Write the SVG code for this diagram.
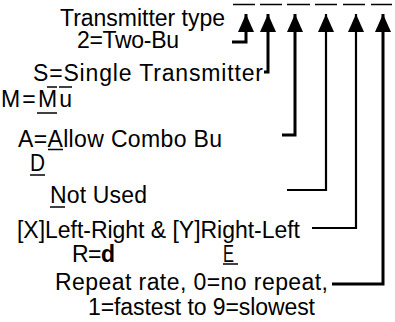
<svg xmlns="http://www.w3.org/2000/svg" width="395" height="322" viewBox="0 0 395 322">
<style>
text{font-family:"Liberation Sans",Arial,sans-serif;font-size:23px;fill:#000}
.u{stroke:#000;stroke-width:1.5}
.c{fill:none;stroke:#000;stroke-width:3}
.c2{fill:none;stroke:#000;stroke-width:2.2}
</style>
<defs>
<marker id="ah" markerUnits="userSpaceOnUse" markerWidth="18" markerHeight="16" refX="18" refY="8" orient="auto" viewBox="0 0 18 16">
<path d="M0,0 L18,8 L0,16 z" fill="#000"/>
</marker>
</defs>
<rect width="395" height="322" fill="#fff"/>
<g id="slots">
<line class="u" x1="233" y1="4.5" x2="255" y2="4.5"/>
<line class="u" x1="260" y1="4.5" x2="282" y2="4.5"/>
<line class="u" x1="287" y1="4.5" x2="310" y2="4.5"/>
<line class="u" x1="315" y1="4.5" x2="337" y2="4.5"/>
<line class="u" x1="343" y1="4.5" x2="365" y2="4.5"/>
<line class="u" x1="371" y1="4.5" x2="392" y2="4.5"/>
</g>
<g id="n1"><text x="60" y="26" textLength="165" lengthAdjust="spacing">Transmitter type</text></g>
<g id="n2"><text x="77" y="48" textLength="102" lengthAdjust="spacing">2=Two-Bu</text></g>
<g id="n3"><text x="33" y="81" textLength="230" lengthAdjust="spacing">S=Single Transmitter</text>
<line class="u" x1="47" y1="87" x2="57" y2="87"/></g>
<g id="n4"><text x="1" y="107" textLength="71" lengthAdjust="spacing">M=Mu</text>
<line class="u" x1="59" y1="87" x2="72" y2="87"/>
<line class="u" x1="37" y1="113" x2="57" y2="113"/></g>
<g id="n5"><text x="18" y="147" textLength="204" lengthAdjust="spacing">A=Allow Combo Bu</text>
<line class="u" x1="48" y1="149.5" x2="63" y2="149.5"/></g>
<g id="n6"><text x="30" y="171" textLength="15" lengthAdjust="spacingAndGlyphs">D</text>
<line class="u" x1="30" y1="175" x2="45" y2="175"/></g>
<g id="n7"><text x="50" y="203" textLength="97" lengthAdjust="spacing">Not Used</text>
<line class="u" x1="50" y1="207" x2="65" y2="207"/></g>
<g id="n8"><text x="17" y="238" textLength="283" lengthAdjust="spacing">[X]Left-Right &amp; [Y]Right-Left</text></g>
<g id="n9"><text x="72" y="262" textLength="43" lengthAdjust="spacing">R=<tspan font-weight="bold">d</tspan></text></g>
<g id="n10"><text x="223" y="262" textLength="11" lengthAdjust="spacingAndGlyphs">E</text>
<line class="u" x1="223" y1="264" x2="238" y2="264"/></g>
<g id="n11"><text x="55" y="290" textLength="273" lengthAdjust="spacing">Repeat rate, 0=no repeat,</text></g>
<g id="n12"><text x="88" y="315" textLength="227" lengthAdjust="spacing">1=fastest to 9=slowest</text></g>
<g id="connectors">
<path class="c" d="M232,42 H246 V14" marker-end="url(#ah)"/>
<path class="c" d="M264,72 H268 V14" marker-end="url(#ah)"/>
<path class="c" d="M282,135 H295 V14" marker-end="url(#ah)"/>
<path class="c2" d="M287,190 H326 V14" marker-end="url(#ah)"/>
<path class="c2" d="M312,228 H356 V14" marker-end="url(#ah)"/>
<path class="c" d="M332,284 H383 V14" marker-end="url(#ah)"/>
</g>
</svg>
